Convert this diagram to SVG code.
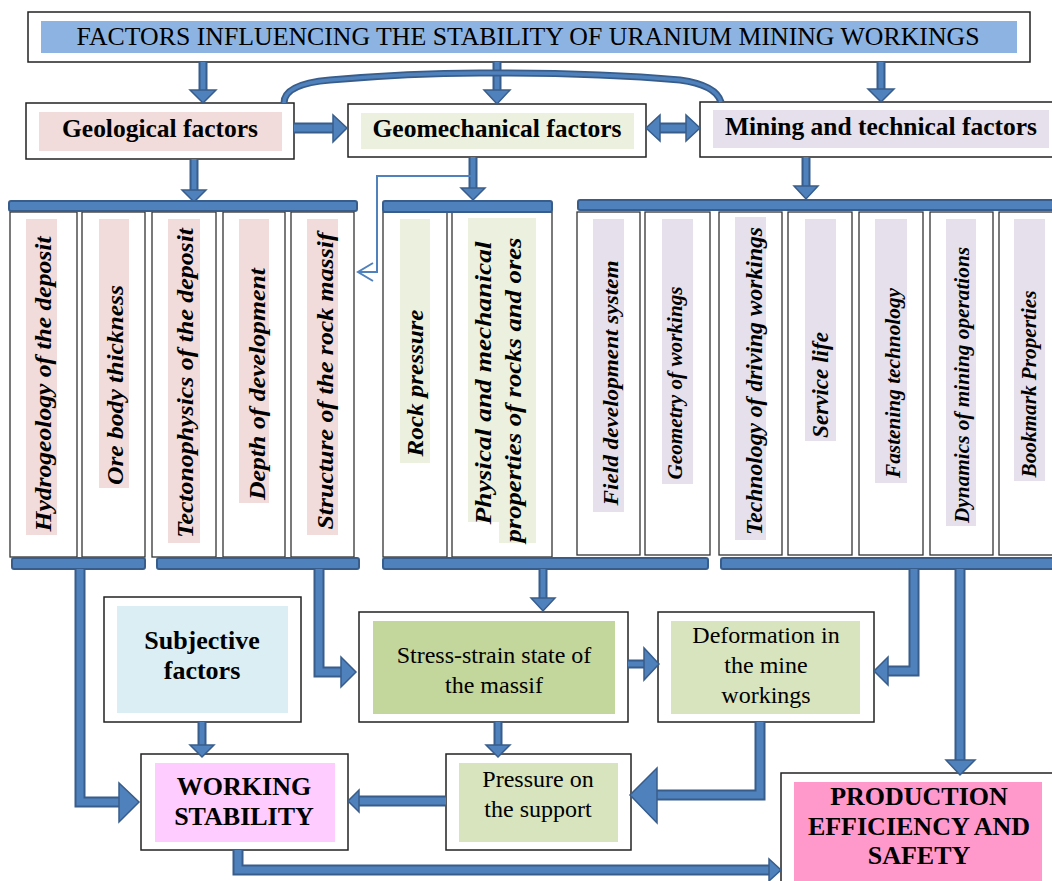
<svg xmlns="http://www.w3.org/2000/svg" width="1052" height="881" viewBox="0 0 1052 881" font-family="'Liberation Serif', 'Times New Roman', serif">
<defs>
<style>
.box{fill:#fff;stroke:#222;stroke-width:1.5}
.col{fill:#fff;stroke:#333;stroke-width:1.3}
.pk{fill:#f2dcdb}.gr{fill:#ebf1de}.lv{fill:#e5e0ec}
text{font-family:'Liberation Serif','Times New Roman',serif;fill:#000}
.vt{font-style:italic;font-weight:bold;font-size:24px;text-anchor:middle}
.b{font-weight:bold;font-size:26px;text-anchor:middle}
.r{font-size:24px;text-anchor:middle}
.po{fill:none;stroke:#385d8a;stroke-width:11;stroke-linejoin:miter}
.pi{fill:none;stroke:#4f81bd;stroke-width:7;stroke-linejoin:miter}
.so{fill:none;stroke:#385d8a;stroke-width:9}
.si{fill:none;stroke:#4f81bd;stroke-width:5}
.hd{fill:#4f81bd;stroke:#385d8a;stroke-width:1.5;stroke-linejoin:miter}
.bar{fill:#4f81bd;stroke:#385d8a;stroke-width:2}
.thin{fill:none;stroke:#4f81bd;stroke-width:2}
</style>
</defs>
<rect width="1052" height="881" fill="#fff"/>

<g id="header">
<rect class="box" x="28" y="12" width="1002" height="50"/>
<rect x="41" y="21" width="976" height="32" fill="#8db3e2"/>
<text x="528" y="45" font-size="26" text-anchor="middle" textLength="903" lengthAdjust="spacingAndGlyphs">FACTORS INFLUENCING THE STABILITY OF URANIUM MINING WORKINGS</text>
</g>

<g id="geological">
<rect class="box" x="26" y="103" width="268" height="56"/>
<rect class="pk" x="39" y="112" width="243" height="39"/>
<text class="b" x="160" y="137" textLength="196" lengthAdjust="spacingAndGlyphs">Geological factors</text>
</g>
<g id="geomechanical">
<rect class="box" x="348" y="104" width="298" height="53"/>
<rect class="gr" x="361" y="113" width="273" height="36"/>
<text class="b" x="497" y="137" textLength="249" lengthAdjust="spacingAndGlyphs">Geomechanical factors</text>
</g>
<g id="mining">
<rect class="box" x="700" y="102" width="360" height="55"/>
<rect class="lv" x="713" y="110" width="336" height="38"/>
<text class="b" x="881" y="135" textLength="312" lengthAdjust="spacingAndGlyphs">Mining and technical factors</text>
</g>

<g id="geo-columns">
<rect class="col" x="10" y="212" width="67" height="345"/>
<rect class="col" x="82" y="212" width="63" height="345"/>
<rect class="col" x="152" y="212" width="64" height="345"/>
<rect class="col" x="223" y="212" width="62" height="345"/>
<rect class="col" x="291" y="212" width="63" height="345"/>
<rect class="pk" x="26" y="219" width="31" height="316"/>
<rect class="pk" x="99" y="219" width="30" height="269"/>
<rect class="pk" x="168" y="219" width="32" height="324"/>
<rect class="pk" x="239" y="219" width="30" height="284"/>
<rect class="pk" x="307" y="219" width="31" height="316"/>
<text class="vt" transform="translate(51,384) rotate(-90)" textLength="295" lengthAdjust="spacingAndGlyphs">Hydrogeology of the deposit</text>
<text class="vt" transform="translate(123,385) rotate(-90)" textLength="200" lengthAdjust="spacingAndGlyphs">Ore body thickness</text>
<text class="vt" transform="translate(193,383) rotate(-90)" textLength="310" lengthAdjust="spacingAndGlyphs">Tectonophysics of the deposit</text>
<text class="vt" transform="translate(265,384) rotate(-90)" textLength="232" lengthAdjust="spacingAndGlyphs">Depth of development</text>
<text class="vt" transform="translate(333,381) rotate(-90)" textLength="297" lengthAdjust="spacingAndGlyphs">Structure of the rock massif</text>
</g>

<g id="geomech-columns">
<rect class="col" x="383" y="212" width="64" height="345"/>
<rect class="col" x="452" y="212" width="100" height="345"/>
<rect class="gr" x="400" y="219" width="30" height="244"/>
<polygon class="gr" points="468,218 536,218 536,543 499,543 499,522 468,522"/>
<text class="vt" transform="translate(423,383) rotate(-90)" textLength="147" lengthAdjust="spacingAndGlyphs">Rock pressure</text>
<text class="vt" transform="translate(491,383) rotate(-90)" textLength="283" lengthAdjust="spacingAndGlyphs">Physical and mechanical</text>
<text class="vt" transform="translate(521,390) rotate(-90)" textLength="305" lengthAdjust="spacingAndGlyphs">properties of rocks and ores</text>
</g>

<g id="mining-columns">
<rect class="col" x="577" y="212" width="63" height="343"/>
<rect class="col" x="645" y="212" width="65" height="343"/>
<rect class="col" x="719" y="212" width="63" height="343"/>
<rect class="col" x="788" y="212" width="64" height="343"/>
<rect class="col" x="859" y="212" width="64" height="343"/>
<rect class="col" x="930" y="212" width="63" height="343"/>
<rect class="col" x="999" y="212" width="60" height="343"/>
<rect class="lv" x="593" y="219" width="31" height="293"/>
<rect class="lv" x="662" y="219" width="31" height="265"/>
<rect class="lv" x="735" y="217" width="31" height="323"/>
<rect class="lv" x="805" y="219" width="31" height="222"/>
<rect class="lv" x="875" y="219" width="32" height="264"/>
<rect class="lv" x="946" y="219" width="30" height="307"/>
<rect class="lv" x="1014" y="219" width="31" height="262"/>
<text class="vt" style="font-size:22px" transform="translate(618,383) rotate(-90)" textLength="245" lengthAdjust="spacingAndGlyphs">Field development system</text>
<text class="vt" style="font-size:20px" transform="translate(682,383) rotate(-90)" textLength="193" lengthAdjust="spacingAndGlyphs">Geometry of workings</text>
<text class="vt" style="font-size:23px" transform="translate(762,381) rotate(-90)" textLength="308" lengthAdjust="spacingAndGlyphs">Technology of driving workings</text>
<text class="vt" style="font-size:23px" transform="translate(828,385) rotate(-90)" textLength="106" lengthAdjust="spacingAndGlyphs">Service life</text>
<text class="vt" style="font-size:20px" transform="translate(900,383) rotate(-90)" textLength="190" lengthAdjust="spacingAndGlyphs">Fastening technology</text>
<text class="vt" style="font-size:20px" transform="translate(969,385) rotate(-90)" textLength="276" lengthAdjust="spacingAndGlyphs">Dynamics of mining operations</text>
<text class="vt" style="font-size:20px" transform="translate(1036,384) rotate(-90)" textLength="187" lengthAdjust="spacingAndGlyphs">Bookmark Properties</text>
</g>

<g id="subjective">
<rect class="box" x="104" y="597" width="197" height="125"/>
<rect x="117" y="606" width="171" height="107" fill="#dbeef4"/>
<text class="b" x="202" y="649">Subjective</text>
<text class="b" x="202" y="679">factors</text>
</g>
<g id="stress">
<rect class="box" x="359" y="612" width="269" height="110"/>
<rect x="373" y="621" width="242" height="93" fill="#c3d69b"/>
<text class="r" x="494" y="663">Stress-strain state of</text>
<text class="r" x="494" y="693">the massif</text>
</g>
<g id="deformation">
<rect class="box" x="658" y="612" width="216" height="110"/>
<rect x="671" y="621" width="189" height="93" fill="#d7e4bd"/>
<text class="r" x="766" y="643">Deformation in</text>
<text class="r" x="766" y="673">the mine</text>
<text class="r" x="766" y="703">workings</text>
</g>
<g id="working">
<rect class="box" x="141" y="754" width="207" height="96"/>
<rect x="155" y="763" width="180" height="79" fill="#ffccff"/>
<text class="b" x="244" y="795">WORKING</text>
<text class="b" x="244" y="825">STABILITY</text>
</g>
<g id="pressure">
<rect class="box" x="446" y="754" width="185" height="96"/>
<rect x="459" y="763" width="159" height="79" fill="#d7e4bd"/>
<text class="r" x="538" y="787">Pressure on</text>
<text class="r" x="538" y="817">the support</text>
</g>
<g id="production">
<rect class="box" x="781" y="773" width="280" height="120"/>
<rect x="794" y="782" width="248" height="100" fill="#ff99cc"/>
<text class="b" x="919" y="805">PRODUCTION</text>
<text class="b" x="919" y="835">EFFICIENCY AND</text>
<text class="b" x="919" y="864">SAFETY</text>
</g>

<g id="connectors">
<path class="so" d="M203,62 V91"/><path class="si" d="M203,62 V92"/>
<polygon class="hd" points="190,90 216,90 203,103"/>
<path class="so" d="M497,62 V91"/><path class="si" d="M497,62 V92"/>
<polygon class="hd" points="484,90 510,90 497,104"/>
<path class="so" d="M881,62 V90"/><path class="si" d="M881,62 V91"/>
<polygon class="hd" points="868,89 894,89 881,102"/>
<path d="M284,103 Q284,84 330,80 Q420,72 497,73 Q600,73 680,80 Q716,85 721,102" fill="none" stroke="#385d8a" stroke-width="7"/>
<path d="M284,103 Q284,84 330,80 Q420,72 497,73 Q600,73 680,80 Q716,85 721,102" fill="none" stroke="#4f81bd" stroke-width="3.5"/>
<path class="po" d="M294,128 H334"/><path class="pi" d="M294,128 H335"/>
<polygon class="hd" points="333,115 333,142 347,128"/>
<path class="po" d="M659,128 H688"/><path class="pi" d="M658,128 H689"/>
<polygon class="hd" points="660,115 660,141 646,128"/>
<polygon class="hd" points="686,115 686,141 700,128"/>
<path class="so" d="M194,159 V191"/><path class="si" d="M194,159 V192"/>
<polygon class="hd" points="182,190 206,190 194,202"/>
<path class="so" d="M473,157 V189"/><path class="si" d="M473,157 V190"/>
<polygon class="hd" points="461,188 485,188 473,200"/>
<path class="so" d="M806,157 V187"/><path class="si" d="M806,157 V188"/>
<polygon class="hd" points="794,186 818,186 806,199"/>
<path class="thin" d="M473,176 H377 V272 H359"/>
<polyline class="thin" points="373,263 358,272 373,281"/>
<rect class="bar" x="9" y="201" width="348" height="10" rx="2"/>
<rect class="bar" x="383" y="201" width="169" height="11" rx="2"/>
<rect class="bar" x="578" y="200" width="476" height="10" rx="2"/>
<rect class="bar" x="12" y="558" width="133" height="11" rx="2"/>
<rect class="bar" x="157" y="558" width="202" height="11" rx="2"/>
<rect class="bar" x="383" y="558" width="325" height="11" rx="2"/>
<rect class="bar" x="721" y="558" width="333" height="11" rx="2"/>
<path class="po" d="M80,569 V802 H120"/><path class="pi" d="M80,569 V802 H121"/>
<polygon class="hd" points="119,783 119,822 139,802"/>
<path class="po" d="M319,569 V672 H342"/><path class="pi" d="M319,569 V672 H343"/>
<polygon class="hd" points="341,657 341,687 356,672"/>
<path class="so" d="M543,569 V599"/><path class="si" d="M543,569 V600"/>
<polygon class="hd" points="531,598 555,598 543,611"/>
<path class="po" d="M914,569 V671 H887"/><path class="pi" d="M914,569 V671 H886"/>
<polygon class="hd" points="888,657 888,685 874,671"/>
<path class="po" d="M960,569 V761"/><path class="pi" d="M960,569 V762"/>
<polygon class="hd" points="946,760 975,760 960,775"/>
<path class="so" d="M628,664 H645"/><path class="si" d="M628,664 H646"/>
<polygon class="hd" points="644,648 644,680 659,664"/>
<path class="so" d="M202,722 V746"/><path class="si" d="M202,722 V747"/>
<polygon class="hd" points="190,745 214,745 202,757"/>
<path class="so" d="M498,722 V746"/><path class="si" d="M498,722 V747"/>
<polygon class="hd" points="486,745 510,745 498,757"/>
<path class="po" d="M760,722 V795 H656"/><path class="pi" d="M760,722 V795 H655"/>
<polygon class="hd" points="657,768 657,823 630,795"/>
<path class="po" d="M446,801 H357"/><path class="pi" d="M446,801 H356"/>
<polygon class="hd" points="359,790 359,812 348,801"/>
<path class="po" d="M238,850 V870 H770"/><path class="pi" d="M238,850 V870 H771"/>
<polygon class="hd" points="769,859 769,881 781,870"/>
</g>
</svg>
